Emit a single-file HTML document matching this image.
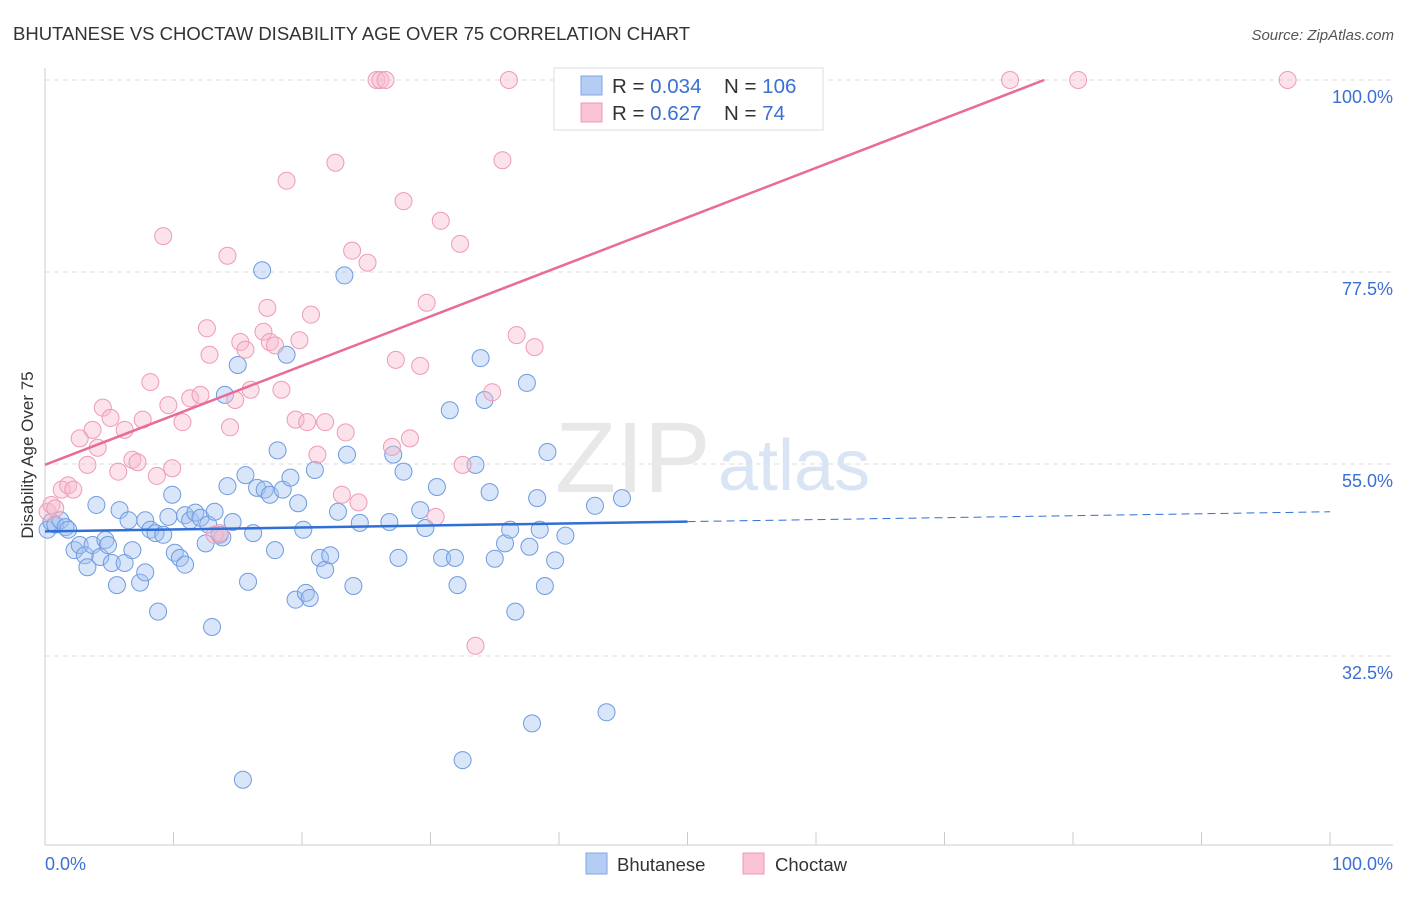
<!DOCTYPE html>
<html><head><meta charset="utf-8"><style>
body{margin:0;background:#fff;font-family:"Liberation Sans",sans-serif;}
svg text{font-family:"Liberation Sans",sans-serif;}
</style></head><body>
<svg id="chart" width="1406" height="892" xmlns="http://www.w3.org/2000/svg">
<text x="13" y="40" font-size="18.5" fill="#333">BHUTANESE VS CHOCTAW DISABILITY AGE OVER 75 CORRELATION CHART</text>
<text x="1394" y="40" font-size="15" fill="#555" font-style="italic" text-anchor="end">Source: ZipAtlas.com</text>
<g id="grid"></g>
<text x="555" y="492" font-size="100" fill="#e8e8e8" font-family="Liberation Serif">ZIP</text>
<text x="718" y="490" font-size="72" fill="#d9e5f4">atlas</text>
<line x1="45" y1="68" x2="45" y2="845" stroke="#ccc"/>
<line x1="45" y1="845" x2="1393" y2="845" stroke="#ccc"/>
<text transform="translate(33,455) rotate(-90)" font-size="17" fill="#333" text-anchor="middle">Disability Age Over 75</text>
<text x="45" y="870" font-size="18" fill="#3b6fd4">0.0%</text>
<text x="1393" y="870" font-size="18" fill="#3b6fd4" text-anchor="end">100.0%</text>
<g id="pts"></g>
<g id="trends"></g>
<g>
<rect x="554" y="68" width="269" height="62" fill="#fff" stroke="#ddd"/>
<rect x="581" y="76" width="21" height="19" fill="#b5cdf3" stroke="#7ea6e6"/>
<rect x="581" y="103" width="21" height="19" fill="#f9c3d3" stroke="#ef9ab4"/>
<text x="612" y="93" font-size="20.5" fill="#333">R = <tspan fill="#3b6fd4">0.034</tspan></text>
<text x="724" y="93" font-size="20.5" fill="#333">N = <tspan fill="#3b6fd4">106</tspan></text>
<text x="612" y="120" font-size="20.5" fill="#333">R =  <tspan fill="#3b6fd4">0.627</tspan></text>
<text x="724" y="120" font-size="20.5" fill="#333">N =   <tspan fill="#3b6fd4">74</tspan></text>
</g>
<g>
<rect x="586" y="853" width="21" height="21" fill="#b5cdf3" stroke="#7ea6e6"/>
<text x="617" y="871" font-size="18.5" fill="#333">Bhutanese</text>
<rect x="743" y="853" width="21" height="21" fill="#f9c3d3" stroke="#ef9ab4"/>
<text x="775" y="871" font-size="18.5" fill="#333">Choctaw</text>
</g>
</svg>
<script>
const yTicks=[100,77.5,55,32.5];
const yTickLabels=["100.0%","77.5%","55.0%","32.5%"];
const xTicks=[0,10,20,30,40,50,60,70,80,90,100];
const blueX=[0.2,0.5,0.8,1.2,1.6,1.8,2.3,2.7,3.1,3.3,3.7,4.0,4.3,4.7,4.9,5.2,5.6,5.8,6.2,6.5,6.8,7.4,7.8,7.8,8.2,8.6,8.8,9.2,9.6,9.9,10.1,10.5,10.9,10.9,11.3,11.7,12.1,12.5,12.7,13.0,13.2,13.6,13.8,14.0,14.2,14.6,15.0,15.4,15.6,15.8,16.2,16.5,16.9,17.1,17.5,17.9,18.1,18.5,18.8,19.1,19.5,19.7,20.1,20.3,20.6,21.0,21.4,21.8,22.2,22.8,23.3,23.5,24.0,24.5,26.8,27.1,27.5,27.9,29.2,29.6,30.5,30.9,31.5,31.9,32.1,32.5,33.5,33.9,34.2,34.6,35.0,35.8,36.2,36.6,37.5,37.9,38.3,38.5,38.9,39.1,39.7,40.5,42.8,43.7,44.9,37.7];
const blueY=[47.3,48.2,47.9,48.4,47.6,47.3,44.9,45.5,44.3,42.9,45.5,50.2,44.1,46.1,45.5,43.4,40.8,49.6,43.4,48.4,44.9,41.1,42.3,48.4,47.3,46.9,37.7,46.7,48.8,51.4,44.6,44.0,43.2,49.0,48.4,49.3,48.7,45.7,47.9,35.9,49.4,46.7,46.4,63.1,52.4,48.2,66.6,18.0,53.7,41.2,46.9,52.2,77.7,52.0,51.4,44.9,56.6,52.0,67.8,53.4,39.1,50.4,47.3,39.9,39.3,54.3,44.0,42.6,44.3,49.4,77.1,56.1,40.7,48.1,48.2,56.1,44.0,54.1,49.6,47.5,52.3,44.0,61.3,44.0,40.8,20.3,54.9,67.4,62.5,51.7,43.9,45.7,47.3,37.7,64.5,24.6,51.0,47.3,40.7,56.4,43.7,46.6,50.1,25.9,51.0,45.3];
const pinkX=[0.2,0.5,0.8,1.3,1.8,2.2,2.7,3.3,3.7,4.1,4.5,5.1,5.7,6.2,6.8,7.2,7.6,8.2,8.7,9.2,9.6,9.9,10.7,11.3,12.1,12.6,12.8,13.2,13.6,14.2,14.4,14.8,15.2,15.6,16.0,17.0,17.3,17.5,17.9,18.4,18.8,19.5,19.8,20.4,20.7,21.2,21.8,22.6,23.1,23.4,23.9,24.4,25.1,25.8,26.1,26.5,27.0,27.3,27.9,28.4,29.2,29.7,30.4,30.8,32.3,32.5,33.5,34.8,35.6,36.1,36.7,38.1,75.1,80.4,96.7];
const pinkY=[49.4,50.2,49.8,52.0,52.5,52.0,58.0,54.9,59.0,56.9,61.6,60.4,54.1,59.0,55.5,55.2,60.2,64.6,53.6,81.7,61.9,54.5,59.9,62.7,63.1,70.9,67.8,46.7,46.9,79.4,59.3,62.5,69.3,68.4,63.7,70.5,73.3,69.3,68.9,63.7,88.2,60.2,69.5,59.9,72.5,56.1,59.9,90.3,51.4,58.7,80.0,50.5,78.6,100,100,100,57.0,67.2,85.8,58.0,66.5,73.9,48.8,83.5,80.8,54.9,33.7,63.4,90.6,100,70.1,68.7,100,100,100];
const blueTrend=[47.1,49.4];
const pinkTrend=[54.9,112.9];
const NS="http://www.w3.org/2000/svg";
function sx(v){return 45+v*12.85;}
function sy(v){return 80+(100-v)*8.533;}
function mk(tag,attrs,parent){const e=document.createElementNS(NS,tag);for(const k in attrs)e.setAttribute(k,attrs[k]);parent.appendChild(e);return e;}
const grid=document.getElementById('grid');
yTicks.forEach((t,i)=>{
 const l=mk('line',{x1:45,x2:1393,y1:sy(t),y2:sy(t),stroke:'#ddd','stroke-dasharray':'5,4'},grid);
 
 
 const tx=mk('text',{x:1393,y:sy(t)+23,'font-size':18,fill:'#3b6fd4','text-anchor':'end'},grid);
 tx.textContent=yTickLabels[i];
 
 
});
xTicks.forEach(t=>{
 const l=mk('line',{x1:sx(t),x2:sx(t),y1:832,y2:845,stroke:'#ccc'},grid);
 
 
});
const pts=document.getElementById('pts');
blueX.forEach((x,i)=>{
 const c=mk('circle',{cx:sx(x),cy:sy(blueY[i]),r:8.5,fill:'rgba(160,192,240,0.4)',stroke:'#6f9be0','stroke-width':1},pts);
 
 
});
pinkX.forEach((x,i)=>{
 const c=mk('circle',{cx:sx(x),cy:sy(pinkY[i]),r:8.5,fill:'rgba(248,185,205,0.4)',stroke:'#ee9bb5','stroke-width':1},pts);
 
 
});
const tr=document.getElementById('trends');
function by(x){return blueTrend[0]+(blueTrend[1]-blueTrend[0])*x/100;}
let b1=mk('line',{x1:sx(0),y1:sy(by(0)),x2:sx(50),y2:sy(by(50)),stroke:'#2f6fd6','stroke-width':2.5},tr);


let b2=mk('line',{x1:sx(50),y1:sy(by(50)),x2:sx(100),y2:sy(by(100)),stroke:'#2f6fd6','stroke-width':1,'stroke-dasharray':'8,5'},tr);


const pslope=(pinkTrend[1]-pinkTrend[0])/100;
const xEnd=(100-pinkTrend[0])/pslope;
let p1=mk('line',{x1:sx(0),y1:sy(pinkTrend[0]),x2:sx(xEnd),y2:sy(100),stroke:'#e86b98','stroke-width':2.5},tr);


</script>
</body></html>
